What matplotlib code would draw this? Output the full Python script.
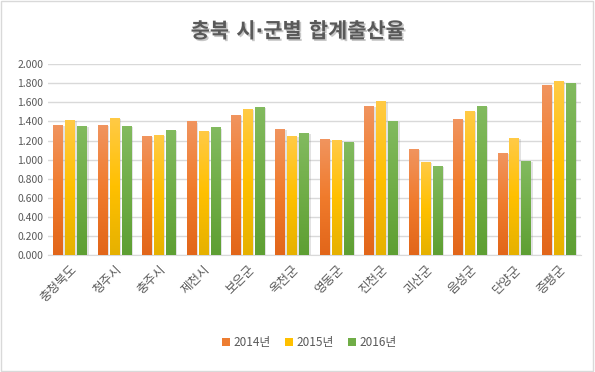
import matplotlib
matplotlib.use('Agg')
import matplotlib.pyplot as plt
import matplotlib.patheffects as pe
from matplotlib.colors import LinearSegmentedColormap
from matplotlib.patches import Rectangle
import numpy as np

plt.rcParams['font.family'] = ['Noto Sans CJK KR', 'DejaVu Sans']

# data
regions = ['충청북도', '청주시', '충주시', '제천시', '보은군', '옥천군',
           '영동군', '진천군', '괴산군', '음성군', '단양군', '증평군']
years = ['2014년', '2015년', '2016년']
v2014 = [1.362, 1.362, 1.247, 1.397, 1.468, 1.320, 1.215, 1.562, 1.110, 1.426, 1.068, 1.776]
v2015 = [1.415, 1.433, 1.257, 1.300, 1.531, 1.247, 1.205, 1.615, 0.974, 1.510, 1.226, 1.825]
v2016 = [1.352, 1.352, 1.310, 1.334, 1.552, 1.278, 1.184, 1.405, 0.932, 1.562, 0.984, 1.804]
series = [v2014, v2015, v2016]

# (top, middle, bottom) colours of the gradient fill
grads = [('#F1945E', '#F07B2C', '#E2661A'),
         ('#FFCA45', '#FFC000', '#E6B100'),
         ('#82BA5F', '#70AD47', '#5E9F33')]
base = ['#ED7D31', '#FFC000', '#70AD47']

fig = plt.figure(figsize=(5.95, 3.72), dpi=100)
ax = fig.add_axes([0.0807, 0.315, 0.896, 0.512])

x = np.arange(len(regions))
bw = 0.225
step = 0.27
grad_img = np.linspace(1, 0, 64).reshape(-1, 1)

for i, vals in enumerate(series):
    cmap = LinearSegmentedColormap.from_list('g%d' % i, list(reversed(grads[i])))
    for xc, v in zip(x + (i - 1) * step, vals):
        x0, x1 = xc - bw / 2, xc + bw / 2
        # soft shadow
        ax.add_patch(Rectangle((x0 + 0.03, 0), bw, v - 0.01, facecolor='#8C8C8C',
                               alpha=0.25, linewidth=0, zorder=2))
        ax.imshow(grad_img, extent=[x0, x1, 0, v], aspect='auto', cmap=cmap,
                  vmin=0, vmax=1, zorder=3, interpolation='bilinear')

ax.set_xlim(-0.5, len(regions) - 0.5)
ax.set_ylim(0, 2.0)
ax.set_yticks(np.arange(0, 2.01, 0.2))
ax.set_yticklabels(['%.3f' % t for t in np.arange(0, 2.01, 0.2)])
ax.set_xticks(x)
ax.set_xticklabels(regions, rotation=45, ha='right', rotation_mode='anchor')
ax.grid(axis='y', color='#D9D9D9', linewidth=1, zorder=0)
ax.set_axisbelow(True)
for s in ['top', 'right', 'left']:
    ax.spines[s].set_visible(False)
ax.spines['bottom'].set_color('#D9D9D9')
ax.tick_params(axis='both', length=0, colors='#595959', labelsize=7.5)
ax.tick_params(axis='x', labelsize=9, pad=6)

# DejaVu first so the middle dot stays narrow, Hangul falls back to Noto
fig.text(0.5, 0.915, '충북 시·군별 합계출산율', ha='center', va='center',
         fontsize=15, fontweight='bold', color='#595959',
         family=['DejaVu Sans', 'Noto Sans CJK KR'],
         path_effects=[pe.withSimplePatchShadow(offset=(1.2, -1.2), shadow_rgbFace='#A0A0A0', alpha=0.6)])

handles = [Rectangle((0, 0), 1, 1, facecolor=c) for c in base]
fig.legend(handles, years, loc='center', bbox_to_anchor=(0.52, 0.078), ncol=3,
           frameon=False, fontsize=8.5, handlelength=0.7, handleheight=0.7,
           columnspacing=1.2, handletextpad=0.3, labelcolor='#595959')

fig.patches.append(Rectangle((0.002, 0.003), 0.995, 0.994, transform=fig.transFigure,
                             fill=False, edgecolor='#D9D9D9', linewidth=1))

fig.savefig('out.png', dpi=100)
